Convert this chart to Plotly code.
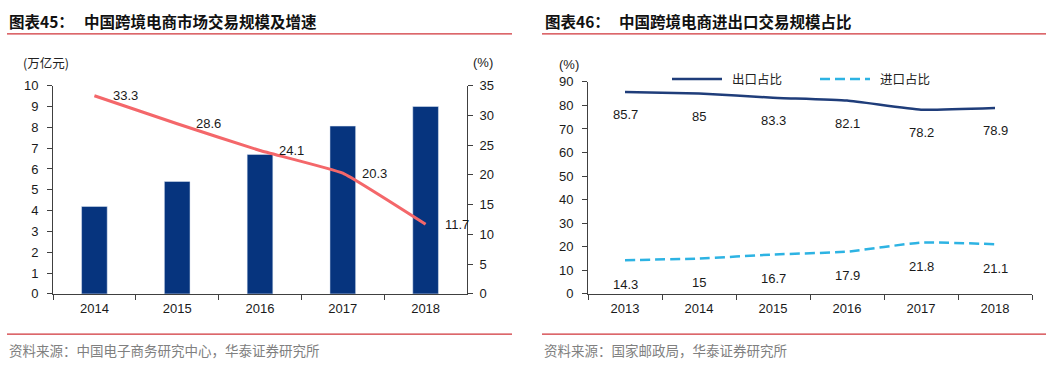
import plotly.graph_objects as go

# ---------------- data ----------------
years_left = ["2014", "2015", "2016", "2017", "2018"]
trade_scale = [4.2, 5.4, 6.7, 8.06, 9.0]          # 万亿元
growth_rate = [33.3, 28.6, 24.1, 20.3, 11.7]      # %

years_right = ["2013", "2014", "2015", "2016", "2017", "2018"]
export_share = [85.7, 85, 83.3, 82.1, 78.2, 78.9]
import_share = [14.3, 15, 16.7, 17.9, 21.8, 21.1]

title_left_no = "图表45："
title_left = "中国跨境电商市场交易规模及增速"
title_right_no = "图表46："
title_right = "中国跨境电商进出口交易规模占比"
source_left = "资料来源：中国电子商务研究中心，华泰证券研究所"
source_right = "资料来源：国家邮政局，华泰证券研究所"
legend_names = ["出口占比", "进口占比"]

# ---------------- style ----------------
W, H = 1057, 370
NAVY = "#06347e"
SALMON = "#f4676a"
EXPORT_C = "#1f3d7a"
IMPORT_C = "#2db3e3"
RED = "#d0353a"
AXIS_C = "#404040"
TXT = "#1a1a1a"
GRAY_TXT = "#808080"
NUM_FONT = "Liberation Sans, Arial, sans-serif"
CJK_FONT = "Noto Sans CJK SC, sans-serif"


def px_x(p):
    return p / W


def px_y(p):
    return (H - p) / H


fig = go.Figure()

# left chart
fig.add_trace(go.Bar(
    x=years_left, y=trade_scale, marker_color=NAVY, width=0.31,
    xaxis="x", yaxis="y", showlegend=False, hoverinfo="skip",
))
fig.add_trace(go.Scatter(
    x=years_left, y=growth_rate, mode="lines",
    line=dict(color=SALMON, width=3, shape="spline", smoothing=0.3),
    xaxis="x", yaxis="y2", showlegend=False, hoverinfo="skip",
))

# right chart
fig.add_trace(go.Scatter(
    x=years_right, y=export_share, mode="lines", name=legend_names[0],
    line=dict(color=EXPORT_C, width=2.5, shape="spline", smoothing=0.4),
    xaxis="x2", yaxis="y3", showlegend=False, hoverinfo="skip",
))
fig.add_trace(go.Scatter(
    x=years_right, y=import_share, mode="lines", name=legend_names[1],
    line=dict(color=IMPORT_C, width=2.5, dash="10px,5px", shape="spline", smoothing=0.4),
    xaxis="x2", yaxis="y3", showlegend=False, hoverinfo="skip",
))

annotations = []
# data labels left (growth) -- category index positions
for i, yv in enumerate(growth_rate):
    annotations.append(dict(
        x=i, y=yv, xref="x", yref="y2", text=f"{yv:g}", showarrow=False,
        xanchor="left", yanchor="middle", xshift=17,
        font=dict(family=NUM_FONT, size=13, color=TXT),
    ))
# data labels right
for i, yv in enumerate(export_share):
    annotations.append(dict(
        x=i, y=yv, xref="x2", yref="y3", text=f"{yv:g}", showarrow=False,
        xanchor="center", yanchor="middle", yshift=-23,
        font=dict(family=NUM_FONT, size=13, color=TXT),
    ))
for i, yv in enumerate(import_share):
    annotations.append(dict(
        x=i, y=yv, xref="x2", yref="y3", text=f"{yv:g}", showarrow=False,
        xanchor="center", yanchor="middle", yshift=-24,
        font=dict(family=NUM_FONT, size=13, color=TXT),
    ))


def paper_text(x, y, text, size, color, bold=False, family=CJK_FONT, xanchor="left"):
    annotations.append(dict(
        x=px_x(x), y=px_y(y), xref="paper", yref="paper",
        text=f"<b>{text}</b>" if bold else text, showarrow=False,
        xanchor=xanchor, yanchor="middle",
        font=dict(family=family, size=size, color=color),
    ))


# titles
paper_text(7, 15, title_left_no, 15.5, "#111111", bold=True)
paper_text(82, 15, title_left, 15.5, "#111111", bold=True)
paper_text(543, 15, title_right_no, 15.5, "#111111", bold=True)
paper_text(617, 15, title_right, 15.5, "#111111", bold=True)
# units
paper_text(21, 58, "(万亿元)", 12.5, "#222222")
paper_text(471, 58, "(%)", 13, "#222222", family=NUM_FONT)
paper_text(557, 60, "(%)", 13, "#222222", family=NUM_FONT)
# sources
paper_text(7, 358, source_left, 13.5, GRAY_TXT)
paper_text(542, 358, source_right, 13.5, GRAY_TXT)
# legend text
paper_text(730, 75, legend_names[0], 12.5, "#222222")
paper_text(878, 75, legend_names[1], 12.5, "#222222")

shapes = []
for (x0, x1, y) in [(7, 512, 28), (542, 1046, 28), (7, 512, 341), (542, 1046, 341)]:
    shapes.append(dict(type="line", xref="paper", yref="paper",
                       x0=px_x(x0), x1=px_x(x1), y0=px_y(y), y1=px_y(y),
                       line=dict(color=RED, width=1.2)))
# legend samples
shapes.append(dict(type="line", xref="paper", yref="paper",
                   x0=px_x(672), x1=px_x(722), y0=px_y(75), y1=px_y(75),
                   line=dict(color=EXPORT_C, width=2.5)))
shapes.append(dict(type="line", xref="paper", yref="paper",
                   x0=px_x(820), x1=px_x(870), y0=px_y(75), y1=px_y(75),
                   line=dict(color=IMPORT_C, width=2.5, dash="10px,5px")))

axis_common = dict(
    showgrid=False, zeroline=False, showline=True, linecolor=AXIS_C, linewidth=1,
    ticks="outside", ticklen=5, tickcolor=AXIS_C, tickwidth=1,
    tickfont=dict(family=NUM_FONT, size=13, color=TXT),
)

fig.update_layout(
    width=W, height=H, margin=dict(l=0, r=0, t=0, b=0),
    paper_bgcolor="white", plot_bgcolor="white",
    showlegend=False, hovermode=False,
    xaxis=dict(domain=[px_x(53), px_x(467)], anchor="y", type="category",
               range=[-0.5, 4.5], tickson="boundaries", ticklabelstandoff=3,
               **axis_common),
    yaxis=dict(domain=[px_y(299), px_y(82)], anchor="x", range=[0, 10],
               dtick=1, ticklabelstandoff=6, **axis_common),
    yaxis2=dict(domain=[px_y(299), px_y(82)], anchor="x", overlaying="y",
                side="right", range=[0, 35], dtick=5, ticklabelstandoff=4,
                **axis_common),
    xaxis2=dict(domain=[px_x(588), px_x(1032)], anchor="y3", type="category",
                range=[-0.5, 5.5], tickson="boundaries", ticklabelstandoff=3,
                **axis_common),
    yaxis3=dict(domain=[px_y(299), px_y(78)], anchor="x2", range=[0, 90],
                dtick=10, ticklabelstandoff=6, **axis_common),
    annotations=annotations,
    shapes=shapes,
)

fig.write_html(
    "out.html",
    config={"displayModeBar": False, "staticPlot": True},
    post_script="document.body.style.margin='0px';document.body.style.overflow='hidden';",
)
